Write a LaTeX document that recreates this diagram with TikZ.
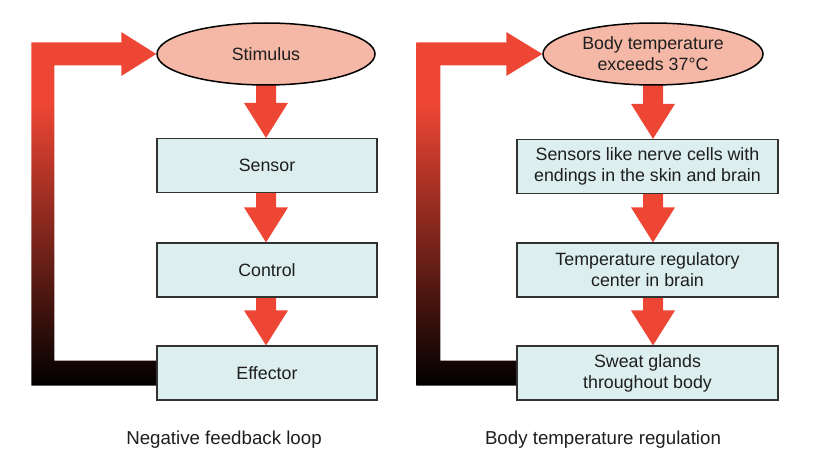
\documentclass[tikz,border=0pt]{standalone}
\usepackage{fontspec}
\setmainfont{Liberation Sans}
\usetikzlibrary{calc,backgrounds,shapes.geometric}
\definecolor{fbred}{RGB}{238,70,52}
\definecolor{ellfill}{RGB}{245,184,166}
\definecolor{boxfill}{RGB}{220,238,238}
\definecolor{txtcol}{RGB}{30,30,30}
\definecolor{boxline}{RGB}{50,50,50}
\pgfdeclareverticalshading{fbgrad}{100bp}{color(0bp)=(black); color(25bp)=(black); color(65bp)=(fbred); color(100bp)=(fbred)}
\newcommand\fatarr[3]{%
  \fill[fbred] ($(#1.south -| #3.center)+(-10,-6)$) -- ($(#2.north -| #3.center)+(-10,-35)$)
    -- ($(#2.north -| #3.center)+(-22,-35)$) -- (#2.north -| #3.center)
    -- ($(#2.north -| #3.center)+(22,-35)$) -- ($(#2.north -| #3.center)+(10,-35)$)
    -- ($(#1.south -| #3.center)+(10,-6)$) -- cycle;}
\begin{document}
\begin{tikzpicture}[x=1pt,y=-1pt,
  every node/.style={font=\fontsize{17.8}{21}\selectfont, text=txtcol},
  ell/.style={ellipse, draw=black, line width=1.5pt, fill=ellfill, inner sep=0pt, minimum height=62, align=center},
  fbox/.style={rectangle, draw=boxline, line width=1.2pt, fill=boxfill, minimum height=54, inner sep=0pt, align=center},
  caption/.style={font=\fontsize{18.7}{22}\selectfont}]
\useasboundingbox (0,0) rectangle (821,468);
% left panel
\node[ell, minimum width=218] (stimL) at (266,54) {Stimulus};
\node[fbox, minimum width=220] (sensL) at (267,165.5) {Sensor};
\node[fbox, minimum width=220] (ctrlL) at (267,270) {Control};
\node[fbox, minimum width=220] (effL) at (267,373) {Effector};
\node[caption] (capL) at (224,440) {Negative feedback loop};
% right panel
\node[ell, minimum width=220] (stimR) at (653,54) {Body temperature\\exceeds 37°C};
\node[fbox, minimum width=261] (sensR) at (647.5,166.5) {Sensors like nerve cells with\\endings in the skin and brain};
\node[fbox, minimum width=261] (ctrlR) at (647.5,270) {Temperature regulatory\\center in brain};
\node[fbox, minimum width=261] (effR) at (647.5,373) {Sweat glands\\throughout body};
\node[caption] (capR) at (603,440) {Body temperature regulation};
\begin{pgfonlayer}{background}
\fatarr{stimL}{sensL}{stimL}
\fatarr{sensL}{ctrlL}{stimL}
\fatarr{ctrlL}{effL}{stimL}
\fatarr{stimR}{sensR}{stimR}
\fatarr{sensR}{ctrlR}{stimR}
\fatarr{ctrlR}{effR}{stimR}
\shade[shading=fbgrad] ($(effL.west)+(0,12.5)$) -- ++(-125,0) |- ($(stimL.west)+(-35,-11.5)$)
  -- ++(0,-10.5) -- (stimL.west) -- ++(-35,22) -- ++(0,-10.5)
  -| ($(effL.west)+(-102,-12.5)$) -- ($(effL.west)+(0,-12.5)$) -- cycle;
\shade[shading=fbgrad] ($(effR.west)+(0,12.5)$) -- ++(-100,0) |- ($(stimR.west)+(-36,-11.5)$)
  -- ++(0,-10.5) -- (stimR.west) -- ++(-36,22) -- ++(0,-10.5)
  -| ($(effR.west)+(-76,-12.5)$) -- ($(effR.west)+(0,-12.5)$) -- cycle;
\end{pgfonlayer}
\end{tikzpicture}
\end{document}
